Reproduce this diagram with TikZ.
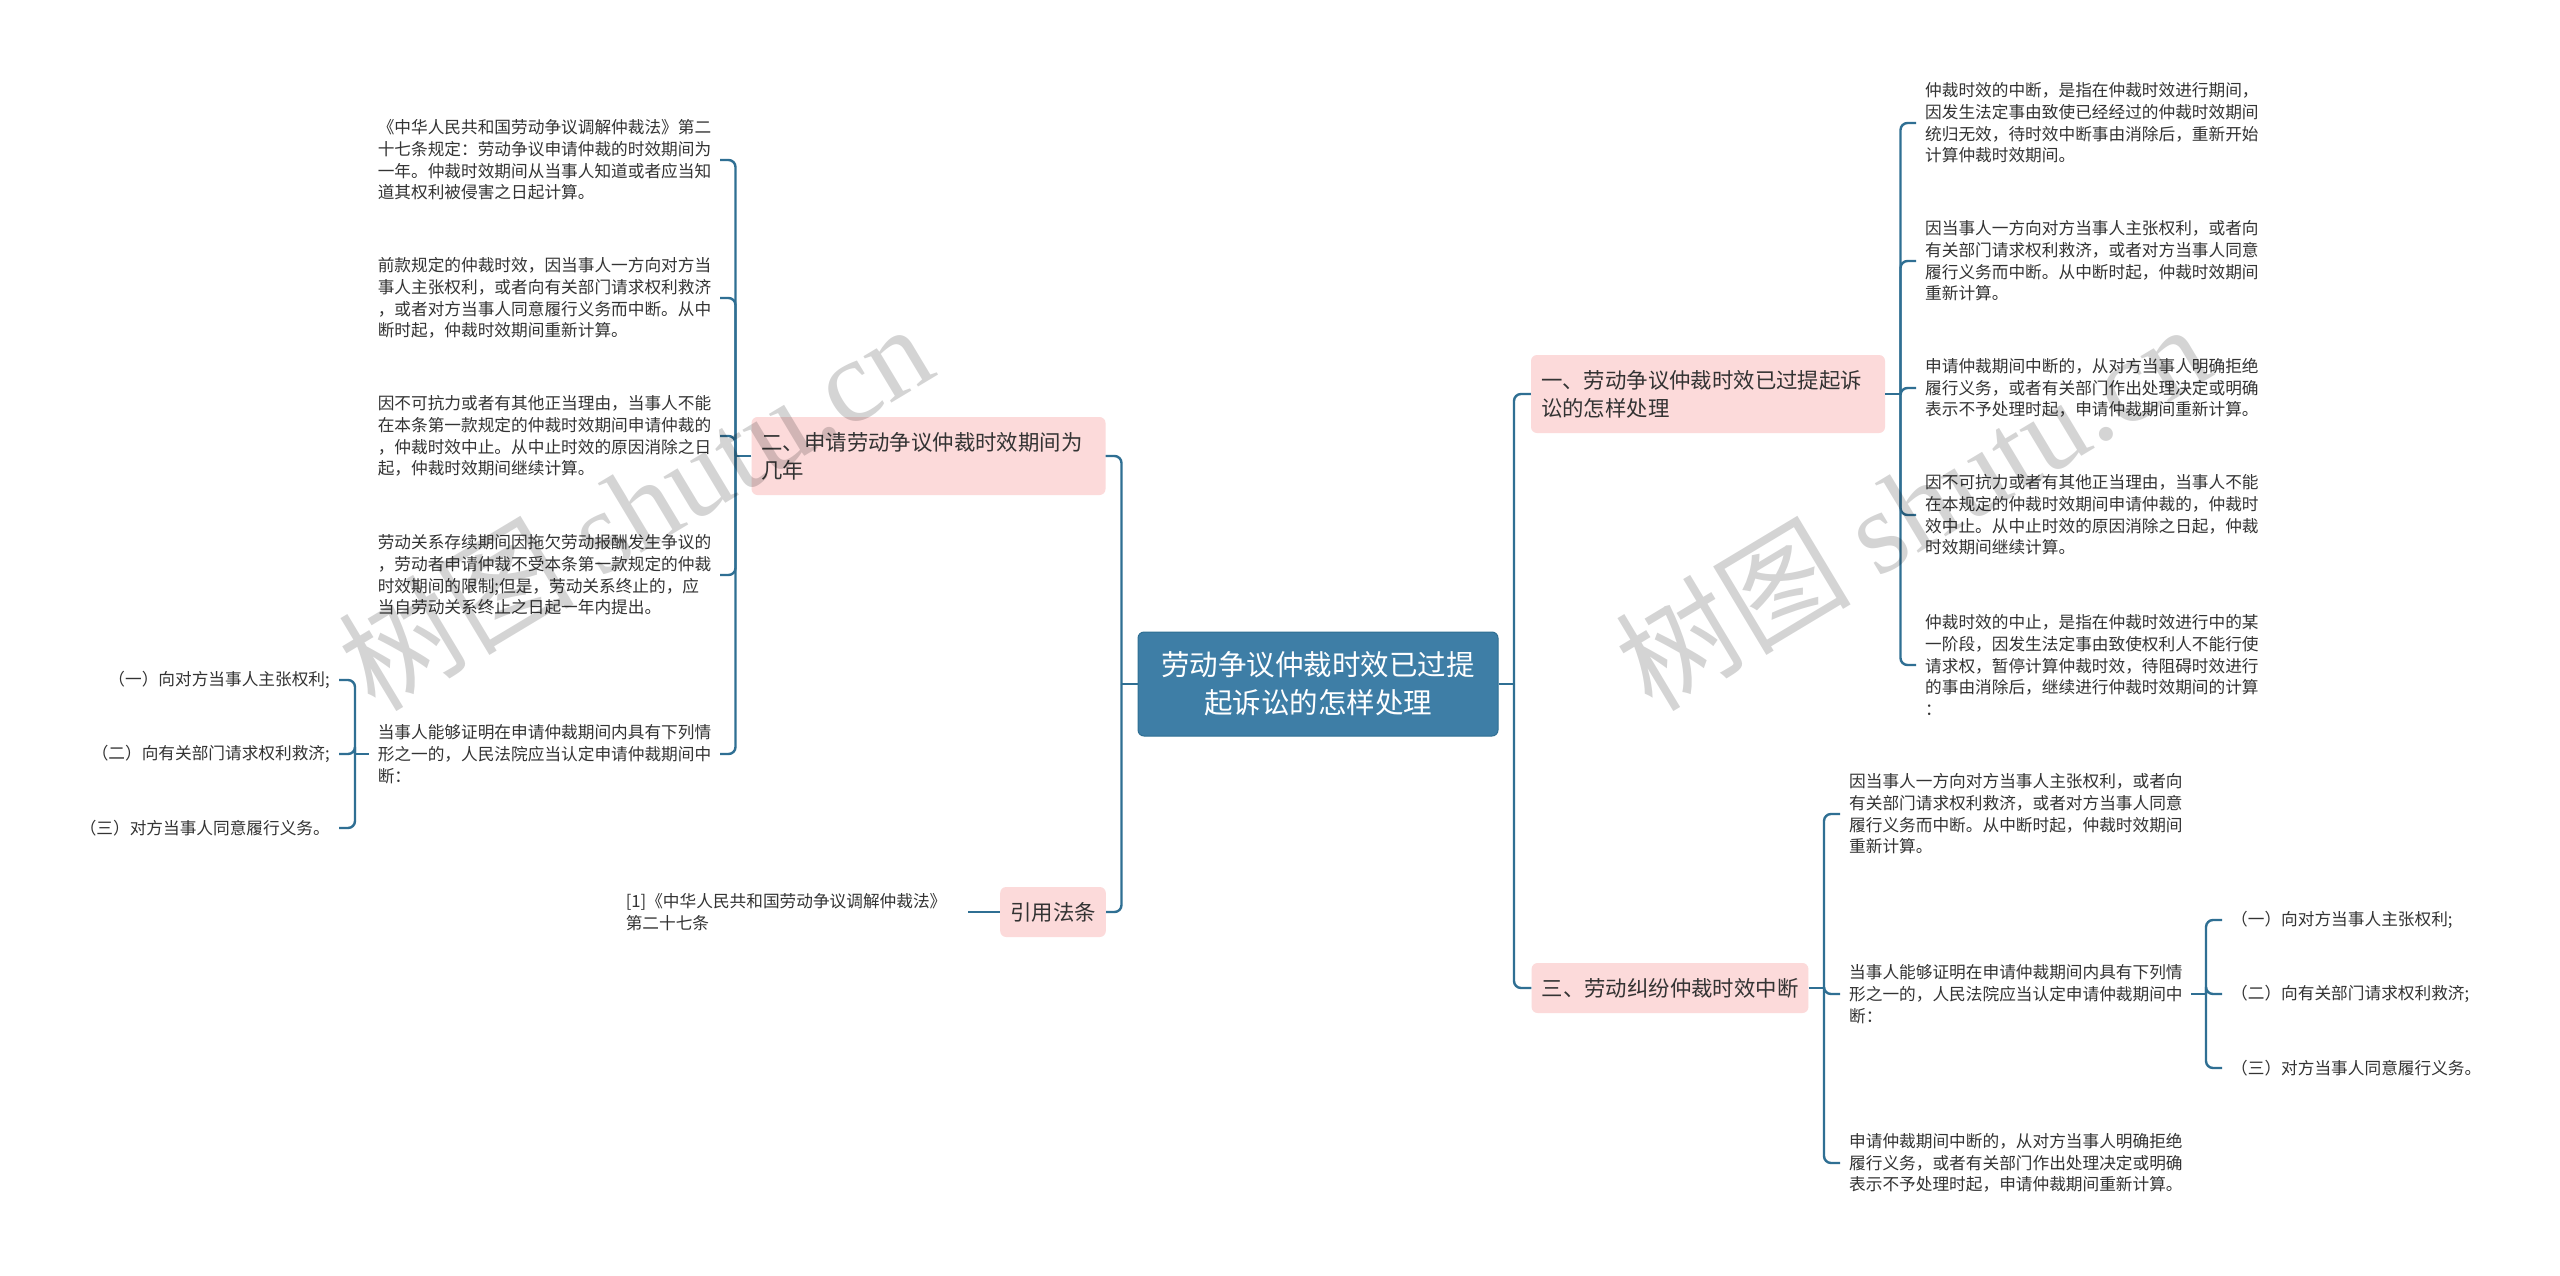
\documentclass[tikz,border=0pt]{standalone}
\usepackage{fontspec}
\setmainfont{Noto Sans CJK SC}
\newfontfamily\latinmark{Liberation Serif}
\definecolor{linkblue}{HTML}{2F6F93}
\definecolor{rootblue}{HTML}{3E7EA6}
\definecolor{topicpink}{HTML}{FCDADA}
\definecolor{inkgrey}{HTML}{333333}
\tikzset{
    branch/.style={draw=linkblue,line width=2.4pt,rounded corners=7pt},
    rootbox/.style={draw=linkblue,line width=1pt,fill=rootblue,rounded corners=6pt,text=white,align=center,
        font=\fontsize{28.5}{38}\selectfont,minimum width=360pt,minimum height=104pt,inner sep=0pt},
    topic/.style={fill=topicpink,rounded corners=6pt,text=black!80,align=left,
        font=\fontsize{21.4}{28}\selectfont,inner xsep=10pt,inner ysep=0pt,minimum height=50pt},
    leaf/.style={text=inkgrey,align=left,text width=333pt,
        font=\fontsize{16.67}{21.7}\selectfont,inner xsep=9pt,inner ysep=0pt},
    subleaf/.style={text=inkgrey,font=\fontsize{16.67}{21.7}\selectfont,inner xsep=9pt,inner ysep=0pt},
    stamp/.style={text=black,opacity=.17,rotate=31,anchor=base,font=\fontsize{118}{118}\selectfont}
}
\begin{document}
\begin{tikzpicture}[x=1pt,y=-1pt]
    \useasboundingbox[fill=white] (0,0) rectangle (2560,1275);
    % centre and main topics
    \node[rootbox] (root) at (1318,684) {劳动争议仲裁时效已过提\\起诉讼的怎样处理};
    \node[topic,text width=334pt,minimum height=78pt] (one) at (1708,394) {一、劳动争议仲裁时效已过提起诉\\讼的怎样处理};
    \node[topic,text width=334pt,minimum height=78pt] (two) at (928.5,456) {二、申请劳动争议仲裁时效期间为\\几年};
    \node[topic] (three) at (1670,988) {三、劳动纠纷仲裁时效中断};
    \node[topic] (law) at (1053,912) {引用法条};

    % right side, first topic
    \node[leaf,anchor=west] (onea) at (1916,123) {仲裁时效的中断，是指在仲裁时效进行期间，\\因发生法定事由致使已经经过的仲裁时效期间\\统归无效，待时效中断事由消除后，重新开始\\计算仲裁时效期间。};
    \node[leaf,anchor=west] (oneb) at (1916,261) {因当事人一方向对方当事人主张权利，或者向\\有关部门请求权利救济，或者对方当事人同意\\履行义务而中断。从中断时起，仲裁时效期间\\重新计算。};
    \node[leaf,anchor=west] (onec) at (1916,388) {申请仲裁期间中断的，从对方当事人明确拒绝\\履行义务，或者有关部门作出处理决定或明确\\表示不予处理时起，申请仲裁期间重新计算。};
    \node[leaf,anchor=west] (oned) at (1916,515) {因不可抗力或者有其他正当理由，当事人不能\\在本规定的仲裁时效期间申请仲裁的，仲裁时\\效中止。从中止时效的原因消除之日起，仲裁\\时效期间继续计算。};
    \node[leaf,anchor=west] (onee) at (1916,665) {仲裁时效的中止，是指在仲裁时效进行中的某\\一阶段，因发生法定事由致使权利人不能行使\\请求权，暂停计算仲裁时效，待阻碍时效进行\\的事由消除后，继续进行仲裁时效期间的计算\\：};

    % right side, third topic
    \node[leaf,anchor=west] (threea) at (1840,814) {因当事人一方向对方当事人主张权利，或者向\\有关部门请求权利救济，或者对方当事人同意\\履行义务而中断。从中断时起，仲裁时效期间\\重新计算。};
    \node[leaf,anchor=west] (threeb) at (1840,994) {当事人能够证明在申请仲裁期间内具有下列情\\形之一的，人民法院应当认定申请仲裁期间中\\断：};
    \node[leaf,anchor=west] (threec) at (1840,1163) {申请仲裁期间中断的，从对方当事人明确拒绝\\履行义务，或者有关部门作出处理决定或明确\\表示不予处理时起，申请仲裁期间重新计算。};
    \node[subleaf,anchor=west] (threebi) at (2222,920) {（一）向对方当事人主张权利;};
    \node[subleaf,anchor=west] (threebii) at (2222,994) {（二）向有关部门请求权利救济;};
    \node[subleaf,anchor=west] (threebiii) at (2222,1068) {（三）对方当事人同意履行义务。};

    % left side, second topic
    \node[leaf,anchor=east] (twoa) at (720,160) {《中华人民共和国劳动争议调解仲裁法》第二\\十七条规定：劳动争议申请仲裁的时效期间为\\一年。仲裁时效期间从当事人知道或者应当知\\道其权利被侵害之日起计算。};
    \node[leaf,anchor=east] (twob) at (720,298) {前款规定的仲裁时效，因当事人一方向对方当\\事人主张权利，或者向有关部门请求权利救济\\，或者对方当事人同意履行义务而中断。从中\\断时起，仲裁时效期间重新计算。};
    \node[leaf,anchor=east] (twoc) at (720,436) {因不可抗力或者有其他正当理由，当事人不能\\在本条第一款规定的仲裁时效期间申请仲裁的\\，仲裁时效中止。从中止时效的原因消除之日\\起，仲裁时效期间继续计算。};
    \node[leaf,anchor=east] (twod) at (720,575) {劳动关系存续期间因拖欠劳动报酬发生争议的\\，劳动者申请仲裁不受本条第一款规定的仲裁\\时效期间的限制;但是，劳动关系终止的，应\\当自劳动关系终止之日起一年内提出。};
    \node[leaf,anchor=east] (twoe) at (720,754) {当事人能够证明在申请仲裁期间内具有下列情\\形之一的，人民法院应当认定申请仲裁期间中\\断：};
    \node[subleaf,anchor=east] (twoei) at (339,680) {（一）向对方当事人主张权利;};
    \node[subleaf,anchor=east] (twoeii) at (339,754) {（二）向有关部门请求权利救济;};
    \node[subleaf,anchor=east] (twoeiii) at (339,828) {（三）对方当事人同意履行义务。};
    \node[leaf,anchor=east] (lawa) at (968,912) {[1]《中华人民共和国劳动争议调解仲裁法》\\第二十七条};

    % junctions on the trunks
    \coordinate (jright) at (1514,684);
    \coordinate (jleft) at (1121.5,684);
    \coordinate (jone) at (1900.5,394);
    \coordinate (jthree) at (1824,988);
    \coordinate (jthreeb) at (2206,994);
    \coordinate (jtwo) at (735.5,456);
    \coordinate (jtwoe) at (355,754);

    \draw[branch] (root.east) -- (jright);
    \draw[branch] (root.west) -- (jleft);
    \draw[branch] (one.east) -- (jone);
    \draw[branch] (three.east) -- (jthree);
    \draw[branch] (two.west) -- (jtwo);
    \draw[branch] (threeb.east) -- (jthreeb);
    \draw[branch] (twoe.west) -- (jtwoe);
    \draw[branch] (lawa.east) -- (law.west);
    \foreach \c in {one,three} \draw[branch] (jright) |- (\c.west);
    \foreach \c in {two,law} \draw[branch] (jleft) |- (\c.east);
    \foreach \c in {onea,oneb,onec,oned,onee} \draw[branch] (jone) |- (\c.west);
    \foreach \c in {threea,threeb,threec} \draw[branch] (jthree) |- (\c.west);
    \foreach \c in {threebi,threebii,threebiii} \draw[branch] (jthreeb) |- (\c.west);
    \foreach \c in {twoa,twob,twoc,twod,twoe} \draw[branch] (jtwo) |- (\c.east);
    \foreach \c in {twoei,twoeii,twoeiii} \draw[branch] (jtwoe) |- (\c.east);

    % watermarks
    \node[stamp] (stampl) at (658,544) {树图 {\latinmark shutu.cn}};
    \node[stamp] (stampr) at (1935,544) {树图 {\latinmark shutu.cn}};
\end{tikzpicture}
\end{document}
